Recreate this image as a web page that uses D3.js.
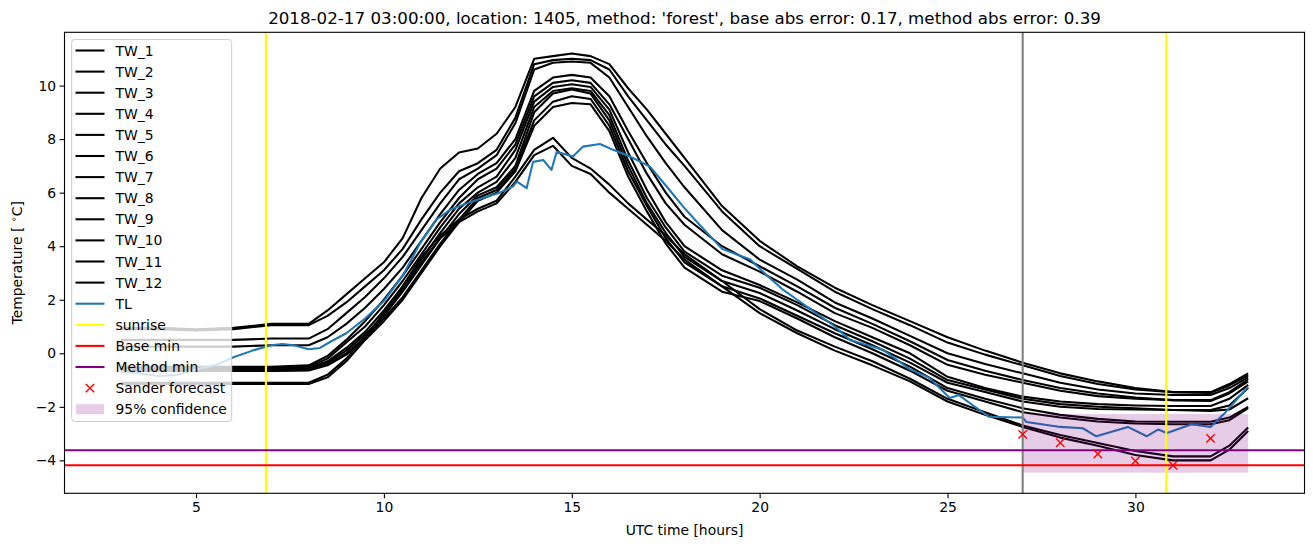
<!DOCTYPE html>
<html>
<head>
<meta charset="utf-8">
<title>Temperature forecast, location 1405</title>
<script src="https://cdn.jsdelivr.net/npm/d3@7"></script>
<style>
  body { margin: 0; background: #fff; }
  svg { display: block; font-family: 'DejaVu Sans', sans-serif; }
  .tick text { font-size: 13.9px; fill: #000; }
  .tick line { stroke: #000; stroke-width: 1.1; }
  text.title { font-size: 16.7px; }
  text.label { font-size: 13.9px; }
  text.legend { font-size: 13.9px; }
  .tw { fill: none; stroke: #000; stroke-width: 2.08; stroke-linejoin: round; }
  .tl { fill: none; stroke: #1f77b4; stroke-width: 2.08; stroke-linejoin: round; }
</style>
</head>
<body>
<svg id="chart" width="1313" height="547"></svg>
<script>
// hours (UTC) of the sampled TW points
const hours = [3,4,5,6,7,8,8.5,9,9.5,10,10.5,11,11.5,12,12.5,13,13.5,14,14.5,15,15.5,16,16.5,17,17.5,18,19,20,21,22,23,24,25,26,27,28,29,30,31,32,32.5,33];

const tw1 = [0.95,0.95,0.9,0.95,1.1,1.1, 1.6,2.2,2.8,3.4,4.3,5.8,6.9,7.5,7.65,8.2,9.2, 11.0,11.1,11.2,11.1,10.8,9.9,9.1,8.2,7.3, 5.5,4.2,3.25,2.45,1.8,1.2,0.6,0.1, -0.35,-0.75,-1.05,-1.3,-1.45,-1.45,-1.15,-0.75];
const tw2 = [0.9,0.9,0.85,0.9,1.05,1.05, 1.4,1.9,2.5,3.1,3.9,5.0,6.0,6.8,7.1,7.6,8.8, 10.8,10.95,11.0,10.95,10.6,9.6,8.7,7.8,7.0, 5.3,4.0,3.15,2.3,1.65,1.05,0.4,-0.05, -0.45,-0.85,-1.15,-1.35,-1.45,-1.48,-1.2,-0.82];
const tw3 = [0.5,0.5,0.5,0.5,0.55,0.55, 0.9,1.5,2.1,2.8,3.6,4.6,5.6,6.5,6.9,7.4,8.6, 10.6,10.85,10.9,10.85,10.3,9.2,8.1,7.1,6.2, 4.6,3.5,2.75,1.9,1.3,0.65,0.0,-0.4, -0.75,-1.1,-1.35,-1.5,-1.56,-1.56,-1.3,-0.9];
const tw4 = [0.25,0.25,0.25,0.25,0.3,0.3, 0.6,1.1,1.7,2.4,3.2,4.2,5.2,6.1,6.7,7.1,8.0, 9.8,10.3,10.4,10.3,9.6,8.3,7.1,6.0,5.1, 4.0,3.25,2.5,1.7,1.1,0.45,-0.25,-0.65, -1.0,-1.3,-1.5,-1.65,-1.75,-1.75,-1.45,-0.97];
const tw5 = [-0.5,-0.5,-0.5,-0.5,-0.5,-0.45, -0.1,0.5,1.2,2.0,2.9,3.9,4.9,5.8,6.5,6.9,7.8, 9.6,10.1,10.2,10.1,9.3,8.0,6.7,5.6,4.8, 3.7,3.05,2.3,1.5,0.95,0.3,-0.43,-0.8, -1.1,-1.4,-1.6,-1.7,-1.75,-1.78,-1.5,-1.05];
const tw6 = [-0.55,-0.55,-0.55,-0.55,-0.55,-0.5, -0.2,0.4,1.0,1.8,2.7,3.7,4.7,5.6,6.2,6.6,7.6, 9.4,9.95,10.05,9.95,9.1,7.5,6.1,4.9,4.0, 3.1,2.55,1.9,1.2,0.6,0.0,-0.88,-1.3, -1.62,-1.8,-1.9,-1.95,-1.97,-1.97,-1.7,-1.18];
const tw7 = [-0.6,-0.6,-0.6,-0.6,-0.6,-0.55, -0.3,0.2,0.8,1.6,2.5,3.5,4.5,5.4,6.0,6.4,7.3, 9.2,9.8,9.9,9.8,8.9,7.2,5.8,4.7,3.8, 2.9,2.45,1.8,1.05,0.45,-0.2,-1.0,-1.35, -1.7,-1.9,-2.0,-2.05,-2.12,-2.12,-1.95,-1.3];
const tw8 = [-0.62,-0.62,-0.62,-0.62,-0.62,-0.6, -0.35,0.1,0.7,1.4,2.3,3.3,4.3,5.2,5.9,6.2,7.0, 9.0,9.7,9.85,9.7,8.7,7.0,5.6,4.5,3.6, 2.7,2.25,1.6,0.9,0.3,-0.35,-1.1,-1.45, -1.8,-2.0,-2.08,-2.1,-2.12,-2.15,-2.1,-1.68];
const tw9 = [-0.65,-0.65,-0.65,-0.65,-0.65,-0.62, -0.4,0.0,0.6,1.3,2.1,3.1,4.1,5.0,5.8,6.1,6.9, 8.7,9.4,9.6,9.5,8.5,6.8,5.5,4.3,3.4, 2.5,2.05,1.4,0.75,0.15,-0.5,-1.3,-1.7, -2.05,-2.3,-2.45,-2.55,-2.56,-2.56,-2.4,-2.0];
const tw10 = [-0.66,-0.66,-0.66,-0.66,-0.66,-0.64, -0.45,-0.05,0.5,1.2,2.0,3.0,4.0,4.9,5.7,6.0,6.8, 8.5,9.2,9.35,9.3,8.3,6.6,5.3,4.1,3.2, 2.3,1.95,1.3,0.6,0.0,-0.65,-1.4,-1.8, -2.2,-2.4,-2.55,-2.62,-2.65,-2.65,-2.5,-2.05];
const tw11 = [-1.1,-1.1,-1.1,-1.1,-1.1,-1.1, -0.8,-0.2,0.6,1.5,2.5,3.6,4.4,5.0,5.4,5.7,6.6, 7.6,8.05,7.3,6.9,6.3,5.6,5.0,4.4,3.7, 2.7,1.65,0.85,0.25,-0.3,-0.95,-1.7,-2.2, -2.7,-3.05,-3.35,-3.65,-3.85,-3.85,-3.45,-2.77];
const tw12 = [-1.15,-1.15,-1.15,-1.15,-1.15,-1.15, -0.9,-0.3,0.5,1.4,2.4,3.4,4.3,4.9,5.3,5.6,6.4, 7.4,7.75,7.0,6.7,6.0,5.4,4.8,4.2,3.5, 2.5,1.5,0.75,0.1,-0.45,-1.05,-1.8,-2.3, -2.75,-3.15,-3.45,-3.8,-4.0,-4.0,-3.6,-2.9];

// TL has its own (denser) time points
const tlHours = [3,3.5,4,4.5,5,5.5,6,6.5,7,7.3,7.6,8,8.3,8.6,9,9.5,10,10.5,11,11.4,11.76,12.2,12.64,13.08,13.43,13.54,13.8,13.97,14.24,14.46,14.6,15.03,15.3,15.75,16.1,16.55,17.08,17.53,17.97,18.4,19,19.75,20.2,20.6,21,21.5,22,22.4,23,23.3,24,24.5,25.06,25.3,26.1,27,27.1,28,28.6,28.96,29.8,30.3,30.6,30.84,31.5,32,32.4,33];
const tl = [-0.7,-0.75,-0.85,-0.8,-0.6,-0.45,-0.15,0.1,0.3,0.35,0.3,0.15,0.2,0.45,0.75,1.3,1.95,2.9,4.2,5.0,5.36,5.6,5.8,6.0,6.23,6.41,6.17,7.15,7.22,6.85,7.53,7.35,7.72,7.82,7.6,7.35,6.97,6.22,5.47,4.8,3.9,3.5,2.9,2.4,2.0,1.5,1.0,0.5,0.25,0.12,-0.6,-0.9,-1.67,-1.56,-2.37,-2.4,-2.57,-2.75,-2.8,-3.1,-2.75,-3.1,-2.85,-2.98,-2.65,-2.75,-2.2,-1.25];

const twNames = ['TW_1','TW_2','TW_3','TW_4','TW_5','TW_6','TW_7','TW_8','TW_9','TW_10','TW_11','TW_12'];
const twSeries = [tw1,tw2,tw3,tw4,tw5,tw6,tw7,tw8,tw9,tw10,tw11,tw12];

const sunriseHours = [6.86, 30.82];
const forecastStart = 27;
const baseMin = -4.18;
const methodMin = -3.62;
const forecastHours = [27, 28, 29, 30, 31, 32];
const forecastTemps = [-3.03, -3.34, -3.76, -4.02, -4.18, -3.18];
const confHours = [27, 33];
const confLow = -4.46, confHigh = -2.27;

const xTicks = [5, 10, 15, 20, 25, 30];
const yTicks = [-4, -2, 0, 2, 4, 6, 8, 10];
const title = "2018-02-17 03:00:00, location: 1405, method: 'forest', base abs error: 0.17, method abs error: 0.39";

// plot area (matplotlib axes box)
const pLeft = 64.5, pRight = 1304.5, pTop = 32.3, pBottom = 493.3;

const svg = d3.select('#chart');
const x = d3.scaleLinear().domain([1.5, 34.5]).range([pLeft, pRight]);
const y = d3.scaleLinear().domain([-5.23, 11.99]).range([pBottom, pTop]);

svg.append('defs').append('clipPath').attr('id', 'clip')
  .append('rect').attr('x', pLeft).attr('y', pTop).attr('width', pRight - pLeft).attr('height', pBottom - pTop);

const plot = svg.append('g').attr('clip-path', 'url(#clip)');
const line = d3.line().x((d, i) => x(hours[i])).y(d => y(d));
const tlLine = d3.line().x((d, i) => x(tlHours[i])).y(d => y(d));

// TW lines
plot.selectAll('path.tw').data(twSeries).enter()
  .append('path').attr('class', 'tw').attr('d', line);

// TL
plot.append('path').attr('class', 'tl').attr('d', tlLine(tl));

// confidence band
plot.append('rect')
  .attr('x', x(confHours[0])).attr('width', x(confHours[1]) - x(confHours[0]))
  .attr('y', y(confHigh)).attr('height', y(confLow) - y(confHigh))
  .attr('fill', 'purple').attr('fill-opacity', 0.2);

// vertical lines
plot.selectAll('line.sunrise').data(sunriseHours).enter().append('line')
  .attr('x1', d => x(d)).attr('x2', d => x(d)).attr('y1', pTop).attr('y2', pBottom)
  .attr('stroke', '#ffff00').attr('stroke-width', 2.08);
plot.append('line')
  .attr('x1', x(forecastStart)).attr('x2', x(forecastStart)).attr('y1', pTop).attr('y2', pBottom)
  .attr('stroke', 'gray').attr('stroke-width', 2.08);

// horizontal minima
plot.append('line').attr('x1', pLeft).attr('x2', pRight).attr('y1', y(baseMin)).attr('y2', y(baseMin))
  .attr('stroke', 'red').attr('stroke-width', 2.08);
plot.append('line').attr('x1', pLeft).attr('x2', pRight).attr('y1', y(methodMin)).attr('y2', y(methodMin))
  .attr('stroke', 'purple').attr('stroke-width', 2.08);

// forecast markers
const cross = (cx, cy, r) => `M${cx - r},${cy - r}L${cx + r},${cy + r}M${cx - r},${cy + r}L${cx + r},${cy - r}`;
plot.selectAll('path.fc').data(forecastHours).enter().append('path')
  .attr('d', (d, i) => cross(x(d), y(forecastTemps[i]), 4.2))
  .attr('stroke', 'red').attr('stroke-width', 1.4).attr('fill', 'none');

// axes
const fmt = d => d < 0 ? '\u2212' + (-d) : String(d);
const xAxis = svg.append('g').attr('transform', `translate(0,${pBottom})`)
  .call(d3.axisBottom(x).tickValues(xTicks).tickFormat(fmt).tickSize(4.9).tickPadding(3.5).tickSizeOuter(0));
const yAxis = svg.append('g').attr('transform', `translate(${pLeft},0)`)
  .call(d3.axisLeft(y).tickValues(yTicks).tickFormat(fmt).tickSize(4.9).tickPadding(3.5).tickSizeOuter(0));
xAxis.select('.domain').remove();
yAxis.select('.domain').remove();
xAxis.selectAll('text').attr('font-family', 'DejaVu Sans').attr('font-size', 13.9);
yAxis.selectAll('text').attr('font-family', 'DejaVu Sans').attr('font-size', 13.9);

svg.append('rect').attr('x', pLeft).attr('y', pTop).attr('width', pRight - pLeft).attr('height', pBottom - pTop)
  .attr('fill', 'none').attr('stroke', '#000').attr('stroke-width', 1.1);

// labels
svg.append('text').attr('class', 'title').attr('x', (pLeft + pRight) / 2).attr('y', 24)
  .attr('text-anchor', 'middle').text(title);
svg.append('text').attr('class', 'label').attr('x', (pLeft + pRight) / 2).attr('y', 535)
  .attr('text-anchor', 'middle').text('UTC time [hours]');
const yl = svg.append('text').attr('class', 'label')
  .attr('transform', `translate(22,${(pTop + pBottom) / 2}) rotate(-90)`).attr('text-anchor', 'middle');
yl.append('tspan').text('Temperature [ ');
yl.append('tspan').attr('font-size', 9.5).attr('dy', -5).text('\u2218');
yl.append('tspan').attr('dy', 5).text('C]');

// legend
const legItems = twNames.map(n => ({ name: n, kind: 'line', color: '#000' }))
  .concat([
    { name: 'TL', kind: 'line', color: '#1f77b4' },
    { name: 'sunrise', kind: 'line', color: '#ffff00' },
    { name: 'Base min', kind: 'line', color: 'red' },
    { name: 'Method min', kind: 'line', color: 'purple' },
    { name: 'Sander forecast', kind: 'x', color: 'red' },
    { name: '95% confidence', kind: 'patch', color: 'purple' }
  ]);
const leg = svg.append('g');
leg.append('rect').attr('x', 71.7).attr('y', 39.5).attr('width', 160).attr('height', 382)
  .attr('rx', 3).attr('fill', '#fff').attr('fill-opacity', 0.8).attr('stroke', '#cccccc').attr('stroke-width', 1);
const rowY = i => 50.5 + i * 21.1;
legItems.forEach((d, i) => {
  const cy = rowY(i);
  if (d.kind === 'line') {
    leg.append('line').attr('x1', 75.5).attr('x2', 104.5).attr('y1', cy).attr('y2', cy)
      .attr('stroke', d.color).attr('stroke-width', 2.08);
  } else if (d.kind === 'x') {
    leg.append('path').attr('d', cross(90, cy, 4.2)).attr('stroke', d.color).attr('stroke-width', 1.4);
  } else {
    leg.append('rect').attr('x', 76).attr('y', cy - 5).attr('width', 28).attr('height', 10)
      .attr('fill', d.color).attr('fill-opacity', 0.2);
  }
  leg.append('text').attr('class', 'legend').attr('x', 115.5).attr('y', cy + 5).text(d.name);
});
</script>
</body>
</html>
